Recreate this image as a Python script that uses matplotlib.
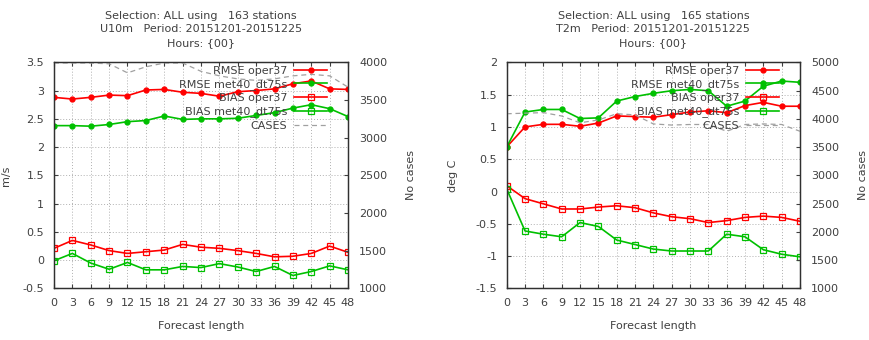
import matplotlib
matplotlib.use("Agg")
import matplotlib.pyplot as plt

# forecast lengths (hours)
hours = [0, 3, 6, 9, 12, 15, 18, 21, 24, 27, 30, 33, 36, 39, 42, 45, 48]

# U10m panel
u10_rmse_oper = [2.88, 2.85, 2.88, 2.92, 2.91, 3.01, 3.02, 2.97, 2.95, 2.90, 2.98, 3.00, 3.03, 3.12, 3.17, 3.03, 3.02]
u10_rmse_met = [2.38, 2.38, 2.37, 2.40, 2.45, 2.47, 2.55, 2.49, 2.50, 2.50, 2.51, 2.56, 2.61, 2.69, 2.75, 2.68, 2.54]
u10_bias_oper = [0.21, 0.35, 0.27, 0.17, 0.12, 0.15, 0.18, 0.28, 0.23, 0.21, 0.17, 0.12, 0.06, 0.07, 0.12, 0.25, 0.14]
u10_bias_met = [-0.01, 0.12, -0.05, -0.16, -0.04, -0.17, -0.17, -0.11, -0.13, -0.06, -0.12, -0.20, -0.11, -0.27, -0.20, -0.10, -0.17]
u10_cases = [3990, 3990, 3990, 3980, 3860, 3940, 3990, 3990, 3880, 3820, 3780, 3760, 3780, 3820, 3840, 3820, 3670]

# T2m panel
t2_rmse_oper = [0.69, 1.00, 1.04, 1.04, 1.01, 1.06, 1.17, 1.16, 1.15, 1.19, 1.23, 1.25, 1.22, 1.33, 1.38, 1.32, 1.32]
t2_rmse_met = [0.69, 1.23, 1.27, 1.27, 1.13, 1.14, 1.40, 1.47, 1.52, 1.56, 1.58, 1.56, 1.32, 1.40, 1.63, 1.71, 1.69]
t2_bias_oper = [0.09, -0.11, -0.19, -0.27, -0.27, -0.24, -0.22, -0.25, -0.33, -0.39, -0.42, -0.48, -0.45, -0.40, -0.38, -0.40, -0.46]
t2_bias_met = [0.04, -0.61, -0.66, -0.70, -0.48, -0.54, -0.75, -0.82, -0.89, -0.92, -0.92, -0.92, -0.66, -0.70, -0.90, -0.97, -1.01]
t2_cases = [4090, 4100, 4110, 4050, 3930, 3980, 4090, 4070, 3910, 3890, 3900, 3900, 3780, 3900, 3910, 3900, 3780]

RED = "#ff0000"
GREEN = "#00c000"
GRAY = "#a0a0a0"
TXT = "#404040"

plt.rcParams["font.family"] = "DejaVu Sans"
plt.rcParams["text.color"] = TXT
plt.rcParams["axes.labelcolor"] = TXT
plt.rcParams["xtick.color"] = TXT
plt.rcParams["ytick.color"] = TXT

fig = plt.figure(figsize=(8.69, 3.4), dpi=100)


def panel(rect, title, ylabel, ylabel_x, ylim, yticks, clim, cticks,
          rmse_oper, rmse_met, bias_oper, bias_met, cases):
    ax = fig.add_axes(rect)
    ax2 = ax.twinx()

    h1, = ax.plot(hours, rmse_oper, color=RED, lw=1.2, marker="o", ms=3.5, label="RMSE oper37")
    h2, = ax.plot(hours, rmse_met, color=GREEN, lw=1.2, marker="o", ms=3.5, label="RMSE met40_dt75s")
    h3, = ax.plot(hours, bias_oper, color=RED, lw=1.2, marker="s", ms=4, mfc="none", mew=0.9,
                  label="BIAS oper37")
    h4, = ax.plot(hours, bias_met, color=GREEN, lw=1.2, marker="s", ms=4, mfc="none", mew=0.9,
                  label="BIAS met40_dt75s")
    h5, = ax2.plot(hours, cases, color=GRAY, lw=0.9, ls=(0, (4, 3)), label="CASES")

    ax.set_xlim(0, 48)
    ax.set_xticks(hours)
    ax.set_ylim(*ylim)
    ax.set_yticks(yticks)
    ax.set_yticklabels([f"{v:g}" for v in yticks])
    ax2.set_ylim(*clim)
    ax2.set_yticks(cticks)

    ax.grid(True, color="#b0b0b0", ls=(0, (1, 2)), lw=0.7)
    for a in (ax, ax2):
        for s in a.spines.values():
            s.set_color("#303030")
            s.set_linewidth(0.9)
    ax.tick_params(direction="in", length=3, labelsize=8, pad=7, top=True)
    ax2.tick_params(direction="in", length=3, labelsize=8, pad=8)

    ax.set_xlabel("Forecast length", fontsize=8)
    ax.xaxis.set_label_coords(0.5, -0.145)
    ax.set_ylabel(ylabel, fontsize=8)
    ax.yaxis.set_label_coords(ylabel_x, 0.5)
    ax2.set_ylabel("No cases", fontsize=8)
    ax2.yaxis.set_label_coords(1.198, 0.5)

    ax.set_title(title, fontsize=8, pad=12, color=TXT, linespacing=1.4)

    ax2.legend([h1, h2, h3, h4, h5], [h.get_label() for h in (h1, h2, h3, h4, h5)],
               loc="upper right", bbox_to_anchor=(0.96, 1.025), frameon=False,
               markerfirst=False, fontsize=8, handlelength=3.0, handletextpad=0.6,
               labelspacing=0.3, borderpad=0.3)


panel([0.0621, 0.1515, 0.3384, 0.6653],
      "Selection: ALL using   163 stations\nU10m   Period: 20151201-20151225\nHours: {00}",
      "m/s", -0.145, (-0.5, 3.5), [-0.5, 0, 0.5, 1, 1.5, 2, 2.5, 3, 3.5],
      (1000, 4000), list(range(1000, 4001, 500)),
      u10_rmse_oper, u10_rmse_met, u10_bias_oper, u10_bias_met, u10_cases)

panel([0.5831, 0.1515, 0.3375, 0.6653],
      "Selection: ALL using   165 stations\nT2m   Period: 20151201-20151225\nHours: {00}",
      "deg C", -0.165, (-1.5, 2), [-1.5, -1, -0.5, 0, 0.5, 1, 1.5, 2],
      (1000, 5000), list(range(1000, 5001, 500)),
      t2_rmse_oper, t2_rmse_met, t2_bias_oper, t2_bias_met, t2_cases)

fig.savefig("out.png", dpi=100)
